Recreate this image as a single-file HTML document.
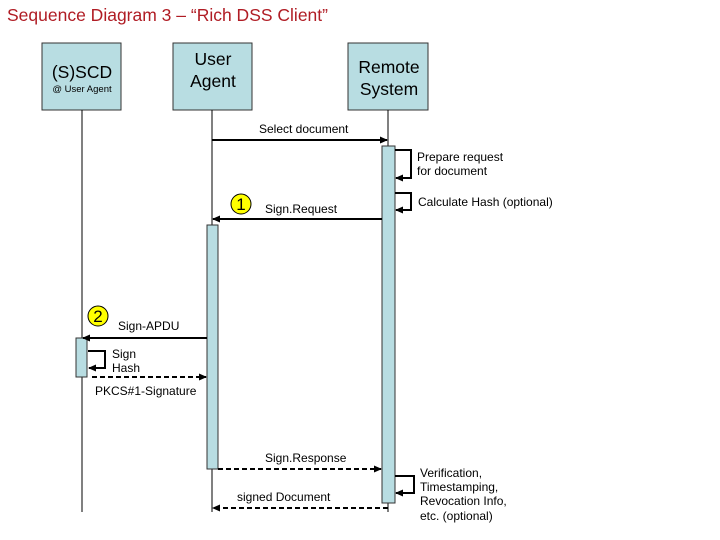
<!DOCTYPE html>
<html><head><style>body{margin:0;background:#fff}svg{display:block}text{font-family:"Liberation Sans",sans-serif}</style></head><body>
<svg width="720" height="540" viewBox="0 0 720 540" xmlns="http://www.w3.org/2000/svg">
<defs><marker id="a" markerWidth="8" markerHeight="8" refX="7" refY="4" orient="auto" markerUnits="userSpaceOnUse"><path d="M0,0.5 L8,4 L0,7.5z" fill="#000"/></marker></defs>
<text x="7" y="21" font-size="17.5" fill="#b01c24">Sequence Diagram 3 – “Rich DSS Client”</text>
<g fill="#b8dde2" stroke="#333" stroke-width="1">
<rect x="42" y="43" width="79" height="67"/><rect x="173" y="43" width="79" height="67"/><rect x="348" y="43" width="80" height="67"/></g>
<g stroke="#000" stroke-width="1"><line x1="82" y1="110" x2="82" y2="512"/><line x1="212" y1="110" x2="212" y2="512"/><line x1="388" y1="110" x2="388" y2="512"/></g>
<text x="82" y="78" font-size="17.5" text-anchor="middle">(S)SCD</text>
<text x="82" y="92" font-size="9.5" text-anchor="middle">@ User Agent</text>
<text x="213" y="65" font-size="17.5" text-anchor="middle">User</text><text x="213" y="87" font-size="17.5" text-anchor="middle">Agent</text>
<text x="389" y="73" font-size="17.5" text-anchor="middle">Remote</text><text x="389" y="95" font-size="17.5" text-anchor="middle">System</text>
<g fill="#b8dde2" stroke="#333"><rect x="382" y="146" width="13" height="357"/><rect x="207" y="225" width="11" height="244"/><rect x="76" y="338" width="11" height="39"/></g>
<g stroke="#000" stroke-width="2" fill="none">
<line x1="212" y1="140" x2="387" y2="140" marker-end="url(#a)"/>
<path d="M395,150 H411 V178 H396" marker-end="url(#a)"/>
<path d="M395,193 H411 V210 H396" marker-end="url(#a)"/>
<line x1="382" y1="219" x2="213" y2="219" marker-end="url(#a)"/>
<line x1="207" y1="338" x2="83" y2="338" marker-end="url(#a)"/>
<path d="M88,351 H105 V368 H89" marker-end="url(#a)"/>
<line x1="92" y1="377" x2="206" y2="377" stroke-dasharray="5,3" marker-end="url(#a)"/>
<line x1="218" y1="469" x2="381" y2="469" stroke-dasharray="5,3" marker-end="url(#a)"/>
<path d="M395,476 H414 V493 H396" marker-end="url(#a)"/>
<line x1="388" y1="508" x2="213" y2="508" stroke-dasharray="5,3" marker-end="url(#a)"/>
</g>
<g fill="#ffff00" stroke="#000" stroke-width="1"><circle cx="241" cy="204" r="10"/><circle cx="98" cy="316" r="10"/></g>
<text x="241" y="210" font-size="17" text-anchor="middle">1</text><text x="98" y="322" font-size="17" text-anchor="middle">2</text>
<g font-size="12">
<text x="259" y="133">Select document</text>
<text x="417" y="161">Prepare request</text><text x="417" y="175">for document</text>
<text x="418" y="206">Calculate Hash (optional)</text>
<text x="265" y="213">Sign.Request</text>
<text x="118" y="330">Sign-APDU</text>
<text x="112" y="358">Sign</text><text x="112" y="372">Hash</text>
<text x="95" y="395">PKCS#1-Signature</text>
<text x="265" y="462">Sign.Response</text>
<text x="237" y="501">signed Document</text>
<text x="420" y="477">Verification,</text><text x="420" y="491">Timestamping,</text><text x="420" y="505">Revocation Info,</text><text x="420" y="520">etc. (optional)</text>
</g>
</svg>
</body></html>
